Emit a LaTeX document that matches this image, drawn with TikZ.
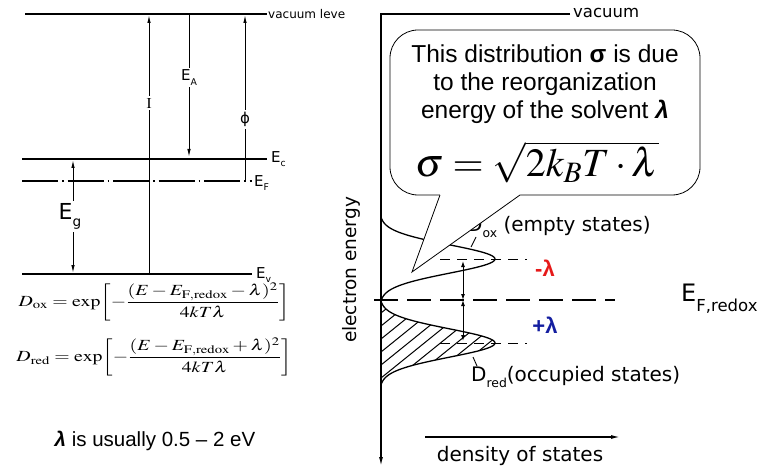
\documentclass[tikz,border=0pt]{standalone}
\usepackage{amsmath}
\usepackage{mathptmx}
\usepackage[no-math]{fontspec}
\setmainfont{Liberation Sans}
\newfontfamily\scanfont{DejaVu Sans}
\usetikzlibrary{arrows.meta, calc, positioning}
\definecolor{lamRed}{RGB}{230,25,25}
\definecolor{lamBlue}{RGB}{20,30,160}
\newcommand{\levsub}[1]{\raisebox{-0.3em}{\scalebox{0.62}{#1}}}
\tikzstyle{level} = [line width=1.3pt]
\tikzstyle{thickLevel} = [line width=2.6pt]
\tikzstyle{gapArrow} = [-{Latex[length=8pt,width=3.5pt]}, line width=1pt]
\tikzstyle{scan} = [font=\scanfont\fontsize{15}{15}\selectfont, inner sep=1pt]
\tikzstyle{lvlText} = [scan, anchor=west]
\tikzstyle{cut} = [scan, fill=white, inner sep=2pt]
\tikzstyle{dosCurve} = [line width=1.3pt]
\tikzstyle{shortDash} = [line width=1pt, dash pattern={on 10pt off 7pt}]
\tikzstyle{bubble} = [draw, line width=0.8pt, fill=white]
\tikzstyle{eqText} = [align=center, inner sep=0pt]
\tikzstyle{bigScan} = [scan, font=\scanfont\fontsize{20}{20}\selectfont]

\begin{document}
\begin{tikzpicture}[x=1pt, y=-1pt,
    declare function={dos(\d)=max(0,(exp(-(\d/20)^2)-exp(-4.4))/(1-exp(-4.4)));}]
    \useasboundingbox (0,0) rectangle (769,468);

    % the band levels (left)
    \coordinate (vacL) at (25,14);
    \coordinate (vacR) at (267,14);
    \coordinate (ecL) at (22,159);
    \coordinate (ecR) at (267,159);
    \coordinate (efL) at (22,181);
    \coordinate (efR) at (252,181);
    \coordinate (evL) at (22,274);
    \coordinate (evR) at (252,274);

    \draw [level] (vacL) -- (vacR);
    \draw [thickLevel] (ecL) -- (ecR);
    \draw [level, dash pattern={on 36pt off 4pt on 1.5pt off 4pt}] (efL) -- (efR);
    \draw [thickLevel] (evL) -- (evR);

    \node (vacText) [lvlText, font=\scanfont\fontsize{12}{12}\selectfont] at (vacR) {vacuum leve};
    \node (ecText) [lvlText, xshift=3pt] at (ecR) {E\levsub{c}};
    \node (efText) [lvlText, xshift=1pt] at ($(efR)+(0,2)$) {E\levsub{F}};
    \node (evText) [lvlText, xshift=3pt] at ($(evR)+(0,1)$) {E\levsub{v}};

    % the gaps
    \coordinate (iBot) at (149,274);
    \coordinate (iTop) at (149,15);
    \coordinate (eaTop) at (189,15);
    \coordinate (eaBot) at (189,157);
    \coordinate (phiBot) at (245,181);
    \coordinate (phiTop) at (245,15);
    \coordinate (egTop) at (73,160);
    \coordinate (egBot) at (73,273);

    \draw [gapArrow] (iBot) -- node (iText) [cut, pos=.66] {$\mathrm{I}$} (iTop);
    \draw [gapArrow] (eaTop) -- node (eaText) [cut, pos=.44] {E\levsub{A}} (eaBot);
    \draw [gapArrow] (phiBot) -- node (phiText) [cut, pos=.37] {ϕ} (phiTop);
    \draw [gapArrow, {Latex[length=8pt,width=3.5pt]}-{Latex[length=8pt,width=3.5pt]}] (egTop) -- node (egText) [cut, font=\scanfont\fontsize{22}{22}\selectfont, xshift=-3pt, inner sep=3pt] {E\levsub{g}} (egBot);

    % the formulas
    \node (dOx) [eqText, font=\fontsize{18}{18}\selectfont] at (154,302) {\scalebox{1.1}[0.86]{$D_{\mathrm{ox}} = \exp\!\left[-\dfrac{(E - E_{\mathrm{F,redox}} - \lambda)^2}{4kT\lambda}\right]$}};
    \node (dRed) [eqText, font=\fontsize{18}{18}\selectfont] at (154,357) {\scalebox{1.1}[0.86]{$D_{\mathrm{red}} = \exp\!\left[-\dfrac{(E - E_{\mathrm{F,redox}} + \lambda)^2}{4kT\lambda}\right]$}};
    \node (lamNote) [eqText, font=\fontsize{20.5}{20.5}\selectfont] at (155,441) {\textbf{\textit{λ}} is usually 0.5 – 2 eV};

    % the energy axis (right)
    \coordinate (vacEnd) at (570,14);
    \coordinate (axTop) at (381,14);
    \coordinate (axBot) at (381,466);
    \draw [level, -{Latex[length=9pt,width=4pt]}] (vacEnd) -- (axTop) -- (axBot);
    \node (vacRight) [lvlText, font=\scanfont\fontsize{16.5}{16.5}\selectfont] at ($(vacEnd)+(2,-1)$) {vacuum};
    \node (energyText) [scan, rotate=90, font=\scanfont\fontsize{18.5}{18.5}\selectfont] at (351,270) {electron energy};

    % the two distributions
    \draw [dosCurve] plot [domain=216:301, samples=80, variable=\t] ({381+114*dos(\t-259)}, \t);
    \draw [dosCurve] plot [domain=300:386, samples=80, variable=\t] ({381+114*dos(\t-343)}, \t);
    \begin{scope}
        \clip plot [domain=300:386, samples=80, variable=\t] ({381+114*dos(\t-343)}, \t) -- cycle;
        \foreach \k in {-2,...,10}{
            \draw [line width=1pt] (381,300+13*\k) -- ++(130,-105);
        }
    \end{scope}

    % the levels
    \coordinate (efRedoxL) at (374,300);
    \coordinate (efRedoxR) at (615,300);
    \draw [line width=1.2pt, dash pattern={on 24pt off 9pt}] (efRedoxL) -- (efRedoxR);
    \coordinate (oxL) at (440,259);
    \coordinate (oxR) at (527,259);
    \coordinate (redL) at (440,343);
    \coordinate (redR) at (527,343);
    \draw [shortDash] (oxL) -- (oxR);
    \draw [shortDash] (redL) -- (redR);

    \coordinate (lamMid) at (463,300);
    \coordinate (lamUp) at (463,261);
    \coordinate (lamDown) at (463,341);
    \draw [line width=1pt, {Latex[length=6pt,width=4pt]}-{Latex[length=6pt,width=4pt]}] (lamMid) -- (lamUp);
    \draw [line width=1pt, {Latex[length=6pt,width=4pt]}-{Latex[length=6pt,width=4pt]}] (lamMid) -- (lamDown);

    \node (minusLam) [font=\bfseries\fontsize{22}{22}\selectfont, text=lamRed] at (545,268) {-λ};
    \node (plusLam) [font=\bfseries\fontsize{22}{22}\selectfont, text=lamBlue] at (545,325) {+λ};
    \node (efRedox) [anchor=west, font=\scanfont\fontsize{24}{24}\selectfont, inner sep=0pt] at (681,299) {E\raisebox{-0.42em}{\fontsize{16.5}{16.5}\selectfont F,redox}};

    \node (oxText) [bigScan, anchor=west] at (466,227) {D\levsub{ox} (empty states)};
    \node (redText) [bigScan, anchor=west] at (470,377) {D\levsub{red}(occupied states)};
    \coordinate (oxLeadA) at (476,237);
    \coordinate (oxLeadB) at (471,247);
    \coordinate (redLeadA) at (473,357);
    \coordinate (redLeadB) at (477,366);
    \draw [line width=0.9pt] (oxLeadA) -- (oxLeadB);
    \draw [line width=0.9pt] (redLeadA) -- (redLeadB);

    % density of states
    \coordinate (dosL) at (425,437);
    \coordinate (dosR) at (620,437);
    \draw [level, -{Latex[length=9pt,width=4pt]}] (dosL) -- (dosR);
    \node (dosText) [bigScan] at (520,456) {density of states};

    % the callout
    \coordinate (tailL) at (440,195);
    \coordinate (tailTip) at (412,272);
    \coordinate (tailR) at (520,195);
    \draw [bubble, rounded corners=28pt] (390,30) rectangle (700,195);
    \fill [white] (tailL) -- (tailTip) -- (tailR) -- ($(tailR)+(0,-4)$) -- ($(tailL)+(0,-4)$) -- cycle;
    \draw [line width=0.8pt] (tailL) -- (tailTip) -- (tailR);

    \node (bubbleText) [align=center, inner sep=0pt, font=\fontsize{24.5}{28}\selectfont] at (545,84) {This distribution \textbf{σ} is due\\to the reorganization\\energy of the solvent \textbf{\textit{λ}}};
    \node (sigmaEq) [eqText, font=\fontsize{40}{40}\selectfont] at (537,162) {$\sigma = \sqrt{2k_BT\cdot\lambda}$};
\end{tikzpicture}
\end{document}
